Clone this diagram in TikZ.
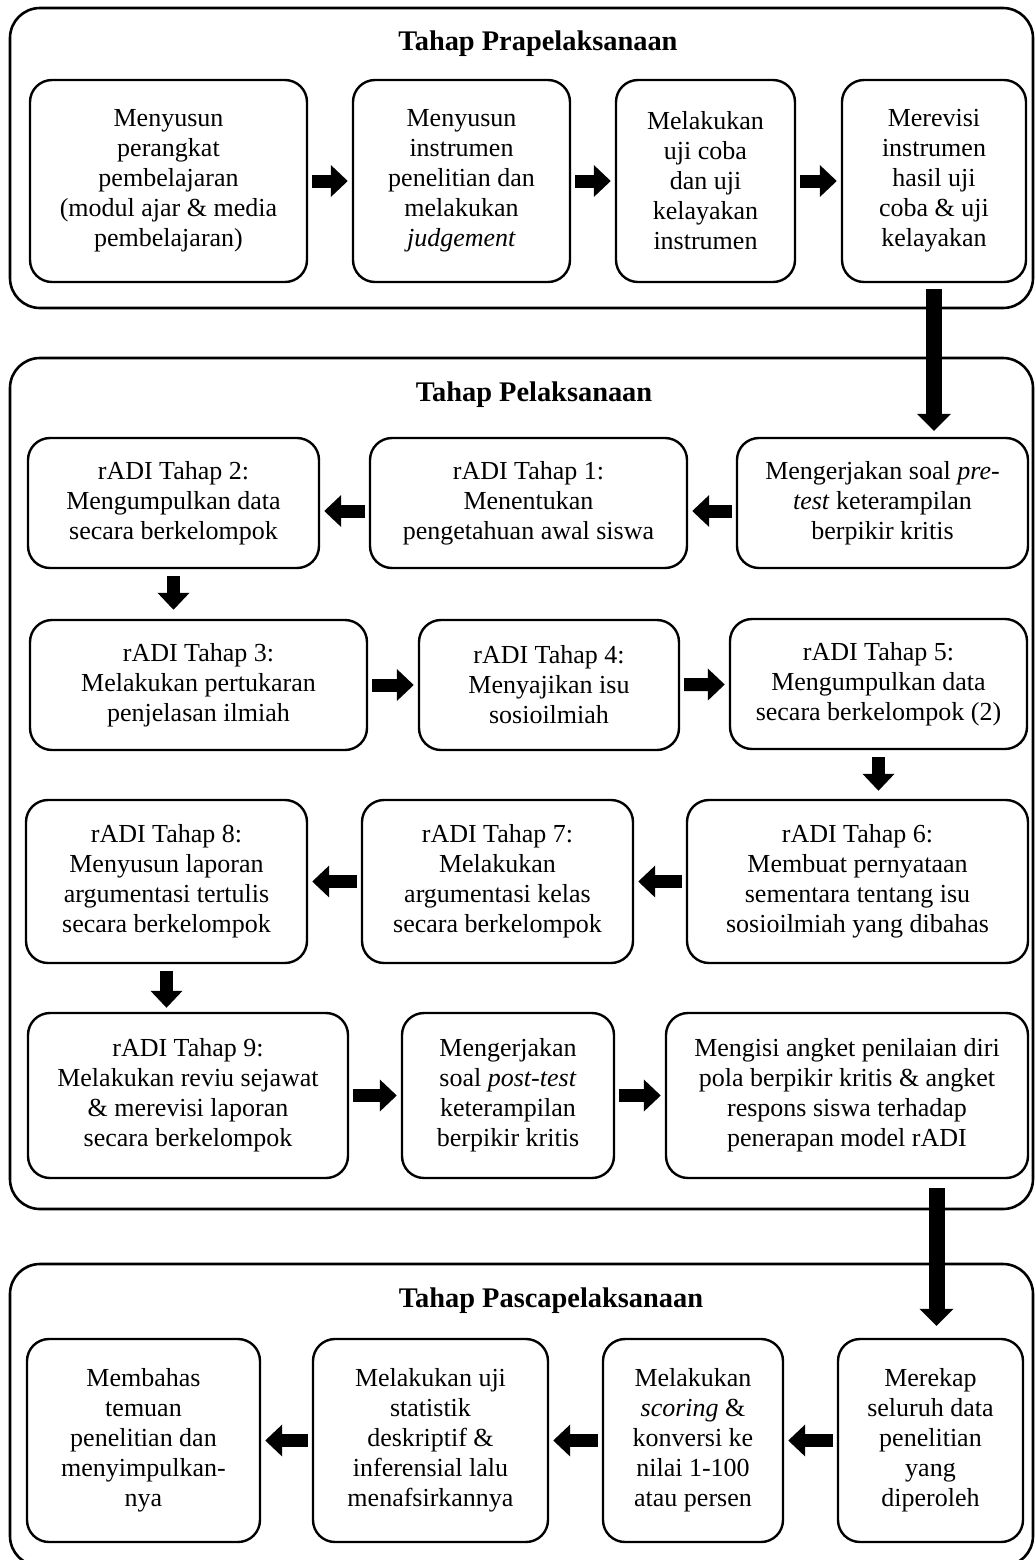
\documentclass[tikz,border=0pt]{standalone}
\usepackage{fontspec}
\setmainfont{Liberation Serif}
\usetikzlibrary{arrows.meta}

\begin{document}
\begin{tikzpicture}[x=0.5pt, y=-0.5pt,
    stagebox/.style={draw, line width=1.2pt, rectangle, rounded corners=11pt, align=center,
        inner sep=0pt, font=\fontsize{13pt}{15pt}\selectfont},
    phase/.style={draw, line width=1.3pt, rounded corners=15pt},
    phasetitle/.style={anchor=base, font=\bfseries\fontsize{14.2pt}{16pt}\selectfont},
    blockarrow/.style={line width=6.5pt, -{Triangle[length=8.5pt, width=15.5pt]}, shorten <=2pt, shorten >=2pt},
    bigarrow/.style={line width=8pt, -{Triangle[length=8.5pt, width=16.5pt]}, shorten <=3pt, shorten >=3pt}]
    \useasboundingbox (0,0) rectangle (1036,1560);

    % panels
    \draw[phase] (10,8) rectangle (1033,308);
    \draw[phase] (10,358) rectangle (1033,1209);
    \draw[phase] (10,1264) rectangle (1033,1566);
    \node[phasetitle] (pra) at (538,50) {Tahap Prapelaksanaan};
    \node[phasetitle] (pel) at (534,401) {Tahap Pelaksanaan};
    \node[phasetitle] (pasca) at (551,1307) {Tahap Pascapelaksanaan};

    % Tahap Prapelaksanaan
    \node[stagebox, minimum width=138.5pt, minimum height=101pt] (perangkat) at (168.5,181) {Menyusun\\perangkat\\pembelajaran\\(modul ajar \& media\\pembelajaran)};
    \node[stagebox, minimum width=108.5pt, minimum height=101pt] (instrumen) at (461.5,181) {Menyusun\\instrumen\\penelitian dan\\melakukan\\\textit{judgement}};
    \node[stagebox, minimum width=89.5pt, minimum height=101pt] (ujicoba) at (705.5,181) {Melakukan\\uji coba\\dan uji\\kelayakan\\instrumen};
    \node[stagebox, minimum width=92pt, minimum height=101pt] (revisi) at (934,181) {Merevisi\\instrumen\\hasil uji\\coba \& uji\\kelayakan};

    % Tahap Pelaksanaan
    \node[stagebox, minimum width=145.5pt, minimum height=65pt] (pretest) at (882.5,503) {Mengerjakan soal \textit{pre-}\\\textit{test} keterampilan\\berpikir kritis};
    \node[stagebox, minimum width=158.5pt, minimum height=65pt] (radi1) at (528.5,503) {rADI Tahap 1:\\Menentukan\\pengetahuan awal siswa};
    \node[stagebox, minimum width=145.5pt, minimum height=65pt] (radi2) at (173.5,503) {rADI Tahap 2:\\Mengumpulkan data\\secara berkelompok};
    \node[stagebox, minimum width=168.5pt, minimum height=65pt] (radi3) at (198.5,685) {rADI Tahap 3:\\Melakukan pertukaran\\penjelasan ilmiah};
    \node[stagebox, minimum width=130pt, minimum height=65pt] (radi4) at (549,685) {rADI Tahap 4:\\Menyajikan isu\\sosioilmiah};
    \node[stagebox, minimum width=148.5pt, minimum height=65pt] (radi5) at (878.5,684) {rADI Tahap 5:\\Mengumpulkan data\\secara berkelompok (2)};
    \node[stagebox, minimum width=170.5pt, minimum height=81.5pt] (radi6) at (857.5,881.5) {rADI Tahap 6:\\Membuat pernyataan\\sementara tentang isu\\sosioilmiah yang dibahas};
    \node[stagebox, minimum width=135.5pt, minimum height=81.5pt] (radi7) at (497.5,881.5) {rADI Tahap 7:\\Melakukan\\argumentasi kelas\\secara berkelompok};
    \node[stagebox, minimum width=140.5pt, minimum height=81.5pt] (radi8) at (166.5,881.5) {rADI Tahap 8:\\Menyusun laporan\\argumentasi tertulis\\secara berkelompok};
    \node[stagebox, minimum width=160pt, minimum height=82.5pt] (radi9) at (188,1095.5) {rADI Tahap 9:\\Melakukan reviu sejawat\\\& merevisi laporan\\secara berkelompok};
    \node[stagebox, minimum width=106pt, minimum height=82.5pt] (posttest) at (508,1095.5) {Mengerjakan\\soal \textit{post-test}\\keterampilan\\berpikir kritis};
    \node[stagebox, minimum width=181pt, minimum height=82.5pt] (angket) at (847,1095.5) {Mengisi angket penilaian diri\\pola berpikir kritis \& angket\\respons siswa terhadap\\penerapan model rADI};

    % Tahap Pascapelaksanaan
    \node[stagebox, minimum width=92.5pt, minimum height=101.5pt] (rekap) at (930.5,1440.5) {Merekap\\seluruh data\\penelitian\\yang\\diperoleh};
    \node[stagebox, minimum width=90pt, minimum height=101.5pt] (scoring) at (693,1440.5) {Melakukan\\\textit{scoring} \&\\konversi ke\\nilai 1-100\\atau persen};
    \node[stagebox, minimum width=117.5pt, minimum height=101.5pt] (statistik) at (430.5,1440.5) {Melakukan uji\\statistik\\deskriptif \&\\inferensial lalu\\menafsirkannya};
    \node[stagebox, minimum width=116.5pt, minimum height=101.5pt] (bahas) at (143.5,1440.5) {Membahas\\temuan\\penelitian dan\\menyimpulkan-\\nya};

    % arrows
    \draw[blockarrow] (perangkat) -- (instrumen);
    \draw[blockarrow] (instrumen) -- (ujicoba);
    \draw[blockarrow] (ujicoba) -- (revisi);
    \draw[bigarrow] (revisi) -- (revisi |- pretest.north);
    \draw[blockarrow] ([yshift=-4pt]pretest.west) -- ([yshift=-4pt]radi1.east);
    \draw[blockarrow] ([yshift=-4pt]radi1.west) -- ([yshift=-4pt]radi2.east);
    \draw[blockarrow, shorten <=3.5pt, shorten >=4.5pt] (radi2) -- (radi2 |- radi3.north);
    \draw[blockarrow] (radi3) -- (radi4);
    \draw[blockarrow] (radi4) -- (radi5);
    \draw[blockarrow, shorten <=3.5pt, shorten >=4pt] (radi5) -- (radi5 |- radi6.north);
    \draw[blockarrow] (radi6) -- (radi7);
    \draw[blockarrow] (radi7) -- (radi8);
    \draw[blockarrow, shorten <=3.5pt, shorten >=2pt] (radi8) -- (radi8 |- radi9.north);
    \draw[blockarrow] (radi9) -- (posttest);
    \draw[blockarrow] (posttest) -- (angket);
    \draw[bigarrow, shorten <=4.5pt, shorten >=6pt] ([xshift=3pt]angket.south -| rekap) -- ([xshift=3pt]rekap.north);
    \draw[blockarrow] (rekap) -- (scoring);
    \draw[blockarrow] (scoring) -- (statistik);
    \draw[blockarrow] (statistik) -- (bahas);
\end{tikzpicture}
\end{document}
